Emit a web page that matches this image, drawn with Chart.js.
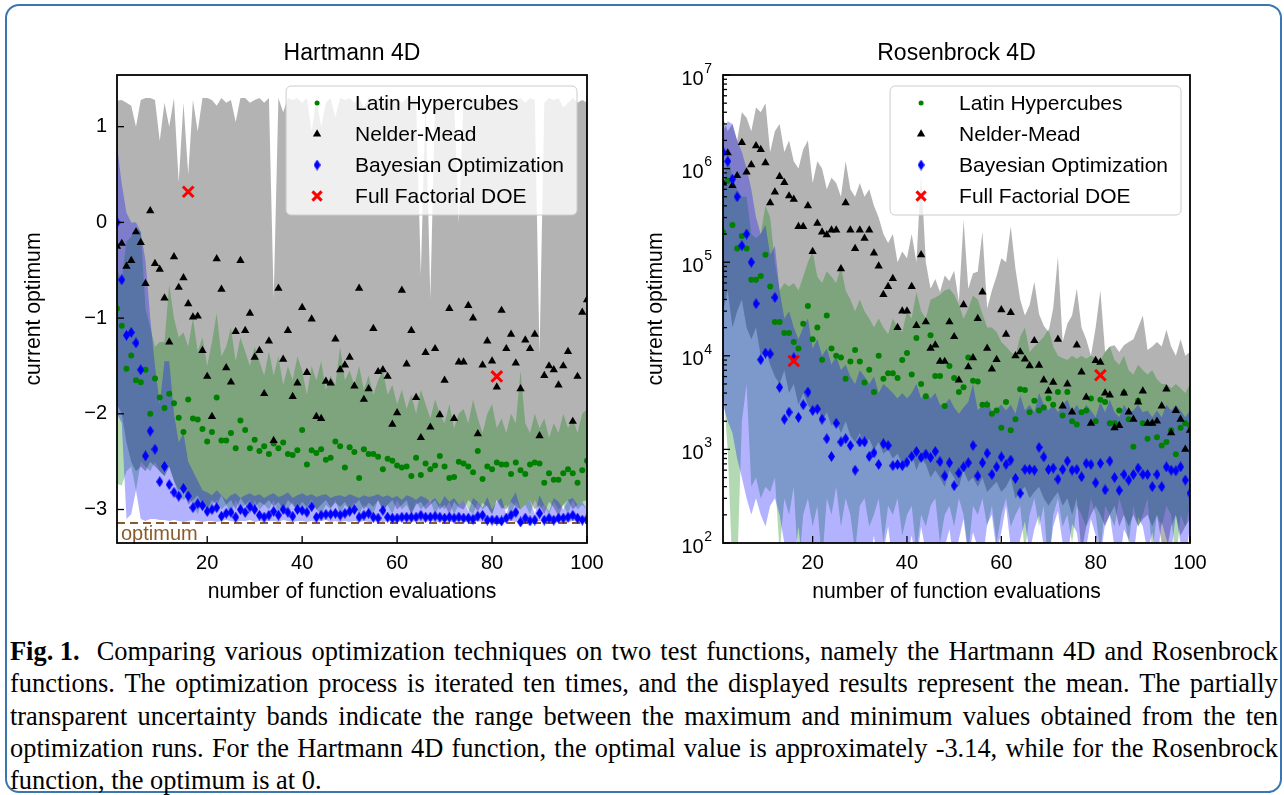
<!DOCTYPE html>
<html>
<head>
<meta charset="utf-8">
<script src="https://cdn.jsdelivr.net/npm/chart.js@4.4.1/dist/chart.umd.min.js"></script>
<style>
  html, body { margin: 0; padding: 0; background: #fff; }
  body { width: 1284px; height: 795px; position: relative; overflow: hidden; }
  #frame { position: absolute; left: 5px; top: 4px; width: 1273px; height: 785px;
           border: 2px solid #3a76b0; border-radius: 14px; }
  #cvLeft { position: absolute; left: 0; top: 0; }
  #cvRight { position: absolute; left: 640px; top: 0; }
  #caption { position: absolute; left: 10px; top: 635px; width: 1268px;
             font-family: "Liberation Serif", "Times New Roman", serif;
             font-size: 26.4px; line-height: 32.3px; color: #000; }
  #caption .ln { display: flex; justify-content: space-between; white-space: nowrap; }
  #caption .ln.last { justify-content: flex-start; gap: 0.25em; }
</style>
</head>
<body>
<div id="frame"></div>
<canvas id="cvLeft" width="640" height="620"></canvas>
<canvas id="cvRight" width="644" height="620"></canvas>
<div id="caption"></div>
<script>
// x axis: number of function evaluations
const EVALS = Array.from({ length: 100 }, (_, i) => i + 1);
const X_TICKS = [20, 40, 60, 80, 100];
const LEGEND_LABELS = ['Latin Hypercubes', 'Nelder-Mead', 'Bayesian Optimization', 'Full Factorial DOE'];
const FFD_EVALS = [16, 81];

const CAPTION_LINES = [
  'Comparing various optimization techniques on two test functions, namely the Hartmann 4D and Rosenbrock',
  'functions. The optimization process is iterated ten times, and the displayed results represent the mean. The partially',
  'transparent uncertainty bands indicate the range between the maximum and minimum values obtained from the ten',
  'optimization runs. For the Hartmann 4D function, the optimal value is approximately -3.14, while for the Rosenbrock',
  'function, the optimum is at 0.',
];

// ---- Hartmann 4D ----
const H_Y_TICKS = [-3, -2, -1, 0, 1];
const H_OPTIMUM = -3.14;
const H_FFD = [0.32, -1.61];
const H_LHS = [-0.90,-1.08,-1.53,-1.39,-1.65,-1.67,-1.54,-2.00,-1.63,-1.83,
  -1.94,-1.79,-1.89,-2.04,-2.19,-1.85,-2.05,-2.06,-2.16,-2.29,
  -2.19,-1.83,-2.28,-2.28,-2.20,-2.36,-2.07,-2.17,-2.36,-2.27,
  -2.39,-2.34,-2.42,-2.31,-2.36,-2.30,-2.42,-2.43,-2.38,-2.17,
  -2.53,-2.38,-2.41,-2.37,-2.48,-2.46,-2.29,-2.34,-2.56,-2.35,
  -2.40,-2.67,-2.37,-2.42,-2.42,-2.45,-2.58,-2.47,-2.49,-2.54,
  -2.56,-2.55,-2.65,-2.46,-2.64,-2.52,-2.58,-2.54,-2.44,-2.55,
  -2.67,-2.66,-2.50,-2.52,-2.55,-2.61,-2.39,-2.68,-2.55,-2.58,
  -2.51,-2.53,-2.53,-2.63,-2.51,-2.59,-2.63,-2.53,-2.51,-2.52,
  -2.72,-2.62,-2.69,-2.69,-2.62,-2.58,-2.62,-2.72,-2.59,-2.49];
const H_LHS_MAX = [-0.50,-0.60,-0.20,-0.15,-0.05,-0.10,-0.90,-1.10,-1.30,-1.25,
  -1.25,-0.65,-1.00,-1.20,-1.15,-1.30,-1.00,-1.35,-1.20,-1.50,
  -1.25,-0.95,-1.40,-1.30,-1.10,-1.45,-1.20,-1.35,-1.50,-1.30,
  -1.45,-1.60,-1.35,-1.60,-1.40,-1.70,-1.50,-1.65,-1.40,-1.55,
  -1.80,-1.50,-1.65,-1.45,-1.75,-1.60,-1.70,-1.30,-1.65,-1.55,
  -1.70,-1.50,-1.75,-1.60,-1.80,-1.65,-1.55,-1.80,-1.70,-1.90,
  -1.75,-1.95,-1.80,-2.00,-1.75,-1.90,-2.05,-1.85,-2.00,-2.10,
  -1.90,-2.15,-2.00,-1.95,-2.10,-1.85,-2.05,-2.20,-2.00,-1.90,
  -2.15,-2.05,-2.20,-2.00,-2.10,-1.55,-2.10,-2.20,-2.00,-2.15,
  -2.05,-2.25,-2.10,-2.20,-2.00,-2.15,-2.05,-2.20,-2.00,-1.95];
const H_LHS_MIN = [-2.73,-2.75,-2.60,-2.55,-2.80,-2.50,-2.55,-2.60,-2.50,-2.60,
  -2.65,-2.55,-2.70,-2.85,-2.90,-2.85,-2.95,-3.05,-2.90,-3.00,
  -2.95,-2.90,-3.00,-2.95,-3.05,-2.90,-3.00,-2.95,-3.05,-2.90,
  -3.00,-2.95,-3.00,-2.90,-3.05,-2.95,-3.00,-2.92,-3.05,-2.95,
  -3.00,-2.90,-3.00,-3.05,-2.95,-3.00,-2.90,-3.05,-2.95,-3.00,
  -2.92,-3.05,-2.95,-3.00,-3.05,-2.90,-3.00,-2.95,-3.05,-2.90,
  -3.00,-2.95,-3.05,-2.92,-3.00,-2.95,-2.90,-3.05,-2.95,-3.00,
  -2.92,-3.05,-2.95,-2.90,-3.00,-3.05,-2.92,-3.00,-2.95,-3.05,
  -2.90,-3.00,-2.95,-3.05,-2.92,-3.00,-2.95,-3.05,-2.90,-3.00,
  -2.95,-3.05,-2.92,-3.00,-2.95,-3.05,-2.90,-3.00,-2.95,-3.00];
const H_NM = [-0.25,-0.22,-0.46,-0.40,-0.10,-0.21,-0.64,0.12,-0.43,-0.49,
  -0.79,-1.25,-0.36,-0.68,-0.58,-0.85,-0.99,-0.98,-1.34,-1.61,
  -2.03,-0.38,-0.70,-1.52,-1.67,-1.14,-0.40,-1.13,-0.95,-1.41,
  -1.34,-1.79,-1.24,-2.28,-0.69,-1.43,-1.13,-1.82,-1.68,-0.89,
  -1.57,-1.01,-2.03,-2.05,-1.66,-1.68,-1.22,-1.54,-1.49,-1.41,
  -1.71,-0.69,-1.85,-1.74,-1.11,-1.56,-1.54,-1.61,-2.11,-1.99,
  -0.71,-1.48,-1.13,-1.83,-2.25,-1.36,-2.14,-1.32,-2.01,-1.65,
  -0.90,-2.05,-1.46,-1.46,-0.87,-1.00,-2.21,-1.49,-1.24,-1.45,
  -1.72,-0.92,-1.32,-1.17,-1.47,-1.74,-1.23,-1.32,-1.17,-2.23,
  -1.60,-1.50,-1.54,-1.70,-1.50,-1.35,-2.08,-1.61,-0.94,-0.81];
const H_NM_MAX = [1.27,1.28,1.25,1.22,1.00,1.28,1.30,1.30,1.28,0.85,
  1.25,1.00,1.30,0.42,1.25,0.50,1.28,0.95,1.30,1.30,
  1.28,1.22,1.30,1.25,1.28,1.05,1.30,1.30,1.25,1.28,
  1.30,1.25,1.30,-0.80,1.30,1.15,1.30,1.28,1.30,1.25,
  1.30,0.95,1.30,1.00,1.25,1.30,1.10,1.30,1.28,1.30,
  1.25,1.30,1.20,1.30,1.28,1.30,1.25,1.30,1.28,1.30,
  1.25,1.30,1.28,1.30,-0.55,1.30,-0.80,1.28,1.30,1.25,
  1.30,1.28,0.00,1.30,1.25,1.30,1.28,1.30,1.25,1.30,
  1.28,1.30,1.25,1.30,1.28,1.30,1.25,1.30,1.28,-1.38,
  1.25,1.30,1.28,1.30,1.20,1.25,1.30,1.25,1.28,1.25];
const H_NM_MIN = [-1.90,-2.00,-2.30,-2.50,-2.60,-2.55,-2.60,-2.50,-2.55,-2.60,
  -2.65,-2.55,-2.70,-2.80,-2.75,-2.95,-2.90,-2.85,-2.95,-3.00,
  -2.90,-2.95,-2.85,-2.95,-2.90,-3.00,-2.88,-2.95,-2.90,-2.98,
  -2.92,-2.95,-2.90,-2.97,-2.92,-3.00,-2.90,-2.95,-3.00,-2.92,
  -2.97,-2.90,-3.00,-2.95,-2.90,-2.98,-2.93,-2.97,-2.92,-3.00,
  -2.95,-2.90,-3.00,-2.93,-2.97,-2.90,-3.02,-2.95,-2.90,-3.00,
  -2.95,-2.90,-3.05,-2.95,-2.92,-3.00,-2.95,-2.90,-3.00,-2.95,
  -3.05,-2.92,-2.98,-3.00,-2.90,-2.95,-3.02,-2.93,-2.97,-3.05,
  -2.90,-2.98,-3.00,-2.92,-2.97,-3.00,-2.95,-2.90,-3.00,-2.95,
  -3.05,-2.92,-2.98,-3.07,-2.95,-2.90,-3.00,-2.95,-2.92,-2.90];
const H_BO = [0.00,-0.60,-1.18,-1.15,-1.26,-1.54,-2.44,-2.18,-2.37,-2.71,
  -2.55,-2.74,-2.82,-2.86,-2.78,-2.86,-2.98,-2.94,-2.96,-3.02,
  -3.00,-2.98,-3.07,-3.04,-3.03,-3.08,-3.00,-3.03,-2.97,-3.00,
  -3.06,-3.08,-3.06,-3.02,-3.06,-3.00,-3.03,-3.07,-3.00,-3.01,
  -3.03,-2.97,-3.08,-3.06,-3.05,-3.05,-3.04,-3.06,-3.04,-3.02,
  -3.00,-3.08,-3.06,-3.04,-3.08,-3.09,-3.01,-3.08,-3.09,-3.09,
  -3.08,-3.08,-3.08,-3.08,-3.06,-3.08,-3.08,-3.07,-3.08,-3.09,
  -3.08,-3.09,-3.08,-3.09,-3.09,-3.10,-3.07,-3.06,-3.11,-3.11,
  -3.11,-3.12,-3.09,-3.06,-3.03,-3.13,-3.09,-3.12,-3.11,-3.04,
  -3.11,-3.09,-3.11,-3.09,-3.09,-3.08,-3.06,-3.09,-3.11,-3.10];
const H_BO_MAX = [0.80,0.40,0.10,0.00,0.00,-0.10,-0.40,-1.00,-1.50,-1.90,
  -1.45,-1.45,-2.00,-2.30,-2.20,-2.50,-2.60,-2.70,-2.80,-2.82,
  -2.85,-2.80,-2.85,-2.90,-2.85,-2.83,-2.88,-2.85,-2.83,-2.86,
  -2.84,-2.88,-2.85,-2.83,-2.87,-2.85,-2.82,-2.88,-2.85,-2.83,
  -2.86,-2.84,-2.87,-2.85,-2.84,-2.88,-2.86,-2.85,-2.87,-2.84,
  -2.86,-2.88,-2.85,-2.87,-2.86,-2.84,-2.87,-2.85,-2.88,-2.86,
  -2.90,-2.85,-2.87,-2.90,-2.86,-2.88,-2.92,-2.88,-2.95,-2.86,
  -2.92,-2.88,-2.95,-2.90,-3.02,-2.88,-2.92,-2.98,-2.87,-3.00,
  -2.92,-2.88,-3.05,-2.90,-2.82,-3.00,-2.95,-2.90,-3.05,-2.85,
  -2.95,-3.02,-2.88,-2.92,-3.00,-2.90,-2.88,-2.95,-2.92,-3.00];
const H_BO_MIN = [-2.00,-2.10,-3.10,-3.05,-2.80,-3.10,-3.12,-3.10,-3.10,-3.11,
  -3.11,-3.12,-3.11,-3.12,-3.13,-3.12,-3.11,-3.12,-3.13,-3.12,
  -3.12,-3.13,-3.12,-3.11,-3.12,-3.13,-3.12,-3.12,-3.11,-3.13,
  -3.12,-3.13,-3.12,-3.12,-3.13,-3.11,-3.12,-3.13,-3.12,-3.12,
  -3.13,-3.12,-3.13,-3.12,-3.11,-3.13,-3.12,-3.13,-3.12,-3.13,
  -3.12,-3.13,-3.12,-3.13,-3.13,-3.12,-3.13,-3.12,-3.13,-3.13,
  -3.12,-3.13,-3.13,-3.12,-3.13,-3.13,-3.12,-3.13,-3.13,-3.12,
  -3.13,-3.13,-3.12,-3.13,-3.13,-3.13,-3.12,-3.13,-3.13,-3.13,
  -3.13,-3.13,-3.13,-3.12,-3.13,-3.14,-3.13,-3.13,-3.13,-3.12,
  -3.13,-3.13,-3.14,-3.13,-3.13,-3.13,-3.12,-3.13,-3.13,-3.13];

// ---- Rosenbrock 4D ----
const R_Y_TICKS = [1e2, 1e3, 1e4, 1e5, 1e6, 1e7];
const R_FFD = [8.8e3, 6.2e3];
const R_LHS = [2.1e5,7.4e5,2.5e5,1.4e5,1.9e5,1.4e5,6.5e4,6.5e4,7.1e4,1.2e5,
  5.5e4,2.3e4,2.3e4,1.75e4,1.75e4,1.4e4,1.2e4,2.2e4,3.4e4,1.5e4,
  2.0e4,9.1e3,2.7e4,1.2e4,1.0e4,9.6e3,5.7e3,8.7e3,1.15e4,8.7e3,
  5.2e3,7.1e3,4.1e3,1.0e4,5.7e3,6.5e3,6.5e3,5.8e3,9.0e3,1.07e4,
  6.3e3,1.55e4,5.0e3,3.7e3,1.66e4,6.1e3,6.1e3,2.9e3,7.8e3,5.8e3,
  4.1e3,4.6e3,9.6e3,5.4e3,5.3e3,3.0e3,3.0e3,2.4e3,2.6e3,1.7e3,
  3.2e3,1.6e3,2.1e3,4.4e3,4.3e3,2.5e3,3.3e3,2.6e3,2.8e3,3.5e3,
  3.0e3,4.1e3,2.3e3,4.1e3,2.0e3,1.85e3,2.5e3,2.6e3,3.5e3,2.0e3,
  3.4e3,3.2e3,1.9e3,1.9e3,2.6e3,4.0e3,2.1e3,1.07e3,3.3e3,1.9e3,
  1.3e3,1.9e3,1.35e3,1.1e3,1.2e3,1.6e3,890,1.7e3,1.9e3,1.8e3];
const R_LHS_MAX = [6e5,1.5e6,8e5,6e5,5e5,5e5,2e5,1.8e5,2e5,4e5,
  3e5,1e5,5e4,6e4,5.5e4,6e4,5e4,7e4,1e5,1.3e5,
  7e4,6e4,8e4,7e4,6e4,9e4,5e4,4e4,3e4,4e4,
  3e4,2.5e4,2e4,2.5e4,2e4,1.7e4,2.5e4,2e4,1.8e4,3e4,
  2.5e4,4.8e4,3e4,2.5e4,4e4,4.2e4,4.5e4,5e4,5.2e4,4.5e4,
  3.5e4,2.5e4,3.2e4,4.4e4,4e4,2.8e4,2e4,2e4,1.8e4,1.4e4,
  1.26e4,1.1e4,1e4,1.6e4,2e4,1.1e4,1.26e4,1.4e4,1.6e4,1.95e4,
  1.26e4,1e4,9.5e3,9e3,1e4,9.3e3,1e4,9.3e3,1e4,9.5e3,
  9e3,1.1e4,1.26e4,9e3,8e3,1e4,7e3,6.3e3,8e3,7e3,
  6.3e3,7e3,5.6e3,5e3,5e3,4.5e3,5e3,4.5e3,4e3,5e3];
const R_LHS_MIN = [5e3,1e3,50,50,2e3,5e3,400,500,300,400,
  350,500,80,300,200,400,50,200,300,150,
  250,60,300,200,400,150,300,200,80,250,
  300,150,200,300,100,250,200,300,120,200,
  250,80,200,150,250,300,100,200,250,150,
  300,200,80,250,200,300,150,250,100,200,
  300,150,200,250,80,200,300,150,250,50,
  200,300,150,200,100,250,200,150,300,200,
  80,250,200,150,300,200,100,250,150,200,
  300,80,200,150,250,200,60,200,150,250];
const R_NM = [7.0e5,1.47e6,6.6e5,8.4e5,1.9e6,9.2e5,1.1e6,1.75e6,1.6e6,1.15e6,
  4.3e5,5.6e5,8.2e5,7.1e5,5.1e5,4.7e5,2.4e5,2.4e5,4.0e5,1.3e5,
  2.6e5,2.1e5,1.96e5,2.2e5,2.2e5,8.5e4,4.3e5,2.2e5,1.4e5,2.2e5,
  1.8e5,2.2e5,1.25e5,9.1e4,4.5e4,5.5e4,6.7e4,2.0e4,3.0e4,3.0e4,
  5.5e4,2.1e4,1.2e5,2.3e4,1.2e4,1.3e4,8.7e3,8.7e3,2.3e4,1.6e4,
  5.5e3,3.5e4,7.6e3,9.5e3,2.5e4,4.8e4,1.2e4,7.2e3,9.1e3,3.1e4,
  1.7e4,2.9e4,1.0e4,1.1e4,9.2e3,7.8e3,1.45e4,7.9e3,5.5e3,4.2e3,
  5.2e3,1.5e4,2.9e3,5.0e3,2.5e3,1.3e4,6.7e3,3.6e3,1.9e3,8.9e3,
  8.5e3,4.0e3,3.8e3,1.7e3,1.8e3,4.0e3,2.5e3,2.1e3,3.2e3,4.2e3,
  1.9e3,1.9e3,2.0e3,2.9e3,4.4e3,1.5e3,2.6e3,2.1e3,1.0e3,1.6e3];
const R_NM_MAX = [3.5e6,2.5e6,3.0e6,2.0e6,4.0e6,3.5e6,2.5e6,4.5e6,4.0e6,5.0e6,
  1.5e6,2.5e6,3.0e6,1.5e6,2.0e6,1.2e6,1.0e6,1.6e6,2.0e6,7.0e5,
  1.2e6,1.0e6,6.0e5,8.0e5,7.0e5,5.0e5,1.2e6,6.0e5,5.0e5,7.0e5,
  5.0e5,6.0e5,4.0e5,3.0e5,2.0e5,1.6e5,2.0e5,1.0e5,1.3e5,1.1e5,
  2.0e5,1.0e5,9.0e5,1.0e5,5.2e4,6.6e4,4.8e4,7.2e4,6.3e4,8.1e4,
  3.8e4,2.8e5,5.2e4,7.6e4,7.9e4,2.1e5,3.2e4,5.0e4,7.1e4,1.1e5,
  1.0e5,2.4e5,8.5e4,4.0e4,2.7e4,3.5e4,6.2e4,2.8e4,2.1e4,1.8e4,
  3.2e4,1.15e5,1.4e4,2.2e4,2.7e4,5.2e4,2.0e4,1.5e4,1.0e4,2.0e4,
  5.0e4,1.1e4,1.26e4,1.3e4,1.1e4,1.3e4,1.4e4,1.5e4,2.0e4,2.7e4,
  1.15e4,1.26e4,1.4e4,1.26e4,1.9e4,1.26e4,1.0e4,1.5e4,1.0e4,1.1e4];
const R_NM_MIN = [3e4,5e4,2e4,3e4,4e4,2e4,1.5e4,2e4,1e4,1.2e4,
  8e3,6e3,5e3,7e3,4e3,5e3,3e3,4e3,3e3,2.5e3,
  3e3,2e3,2.5e3,1.8e3,2e3,1.5e3,2e3,1.4e3,1.2e3,1.5e3,
  1.1e3,1.3e3,1e3,1.2e3,900,1e3,800,900,700,800,
  900,600,800,700,500,600,500,400,600,500,
  400,600,450,500,400,500,350,400,450,350,
  400,500,300,350,400,300,350,400,300,250,
  300,350,250,300,200,300,80,150,200,250,
  200,150,200,250,150,200,150,200,150,180,
  200,150,200,100,80,150,200,120,150,180];
const R_BO = [1.5e6,1.2e6,7.7e5,5.0e5,1.5e5,2.0e5,1.0e5,3.6e4,9.1e3,1.07e4,
  1.05e4,4.2e4,4.6e3,2.1e3,2.5e3,9.5e3,2.2e3,3.0e3,4.1e3,2.6e3,
  2.7e3,2.1e3,1.3e3,840,1.9e3,1.2e3,1.3e3,1.1e3,600,1.2e3,
  1.2e3,840,920,690,1.15e3,1.1e3,670,690,670,730,
  840,950,820,890,820,950,740,520,720,410,
  560,650,720,1.1e3,520,720,910,540,650,830,
  690,770,490,340,610,610,600,1.05e3,830,610,
  630,480,610,750,600,610,510,710,690,440,
  710,370,750,500,365,540,470,540,630,540,
  540,400,540,400,650,600,590,650,470,340];
const R_BO_MAX = [2.5e6,3.2e6,3.0e6,2.0e6,1.5e6,1.0e6,6e5,3e5,2e5,2.5e5,
  1.2e5,1.5e5,5e4,2.5e4,3e4,2e4,1.5e4,2e4,2.5e4,1.2e4,
  1.5e4,1.0e4,1.2e4,8e3,1.0e4,7e3,8e3,6e3,5e3,7e3,
  6e3,5e3,6e3,4e3,5e3,4.5e3,4e3,3.5e3,4e3,3.5e3,
  4e3,5e3,3.5e3,4e3,3.5e3,4e3,3e3,3e3,3.5e3,2.8e3,
  2.4e3,2.8e3,3.2e3,5e3,2.6e3,3e3,3.4e3,2.5e3,2.7e3,3e3,
  2.6e3,3e3,2.4e3,3.8e3,2.6e3,3e3,2.5e3,4e3,3e3,2.6e3,
  3e3,2.5e3,3e3,3.4e3,2.5e3,3e3,2.4e3,3e3,2.6e3,2.2e3,
  3.2e3,2.5e3,3.4e3,2.5e3,2.2e3,3e3,2.5e3,2.6e3,3e3,2.5e3,
  2.6e3,2.2e3,2.6e3,2.2e3,3e3,2.6e3,3e3,2.6e3,2.2e3,2.6e3];
const R_BO_MIN = [3e3,2e3,1.5e3,800,500,300,200,300,200,150,
  250,300,200,100,80,60,150,50,80,100,
  60,80,50,60,50,80,50,60,50,70,
  90,60,120,50,80,150,60,50,90,70,
  120,60,150,80,50,100,60,90,140,60,
  110,180,70,130,90,60,160,200,80,130,
  250,90,60,110,170,80,140,200,90,60,
  150,220,100,70,160,130,60,90,180,120,
  70,160,200,90,60,140,110,70,190,150,
  80,130,60,170,110,80,200,100,70,150];

const FONT = '"Liberation Sans", Arial, Helvetica, sans-serif';
const GREEN = '#008000', BLUE = '#0000ff', RED = '#ff0000', BROWN = '#8b5a2b';

function thinDiamond(color, w, h) {
  const c = document.createElement('canvas');
  c.width = w; c.height = h;
  const g = c.getContext('2d');
  g.fillStyle = color;
  g.beginPath();
  g.moveTo(w / 2, 0); g.lineTo(w, h / 2); g.lineTo(w / 2, h); g.lineTo(0, h / 2);
  g.closePath(); g.fill();
  return c;
}
const DIAMOND = thinDiamond(BLUE, 7, 11);

const MARKERS = [
  { pointStyle: 'circle', radius: 3, fill: GREEN, stroke: GREEN, borderWidth: 0 },
  { pointStyle: 'triangle', radius: 4.8, fill: '#000', stroke: '#000', borderWidth: 0 },
  { pointStyle: DIAMOND, radius: 5, fill: BLUE, stroke: BLUE, borderWidth: 0 },
  { pointStyle: 'crossRot', radius: 7.5, fill: RED, stroke: RED, borderWidth: 3 },
];

const pts = (xs, ys) => xs.map((x, i) => ({ x, y: ys[i] }));

function band(xs, hi, lo, color, order) {
  return [
    { data: pts(xs, hi), borderWidth: 0, pointRadius: 0, fill: '+1', backgroundColor: color, order, clip: 0 },
    { data: pts(xs, lo), borderWidth: 0, pointRadius: 0, fill: false, order, clip: 0 },
  ];
}

function scatter(xs, ys, m, order) {
  return {
    data: pts(xs, ys), showLine: false, order, clip: 0,
    pointStyle: m.pointStyle, pointRadius: m.radius,
    pointBackgroundColor: m.fill, pointBorderColor: m.stroke, pointBorderWidth: m.borderWidth,
  };
}

function minus(v) { return v < 0 ? '\u2212' + Math.abs(v) : String(v); }

const decor = {
  id: 'decor',
  afterDatasetsDraw(chart, args, opts) {
    const { ctx, chartArea: a, scales: { x, y } } = chart;
    ctx.save();
    ctx.strokeStyle = '#000';
    ctx.lineWidth = 1.3;
    const seg = (x1, y1, x2, y2) => { ctx.beginPath(); ctx.moveTo(x1, y1); ctx.lineTo(x2, y2); ctx.stroke(); };
    X_TICKS.forEach((v) => { const px = x.getPixelForValue(v); seg(px, a.bottom, px, a.bottom - 7); });
    opts.yTicks.forEach((v) => { const py = y.getPixelForValue(v); seg(a.left, py, a.left + 7, py); });

    if (opts.log) {
      for (let d = 2; d < 7; d++) {
        for (let m = 2; m < 10; m++) {
          const py = y.getPixelForValue(m * Math.pow(10, d));
          seg(a.left, py, a.left + 4, py);
        }
      }
      ctx.fillStyle = '#000';
      opts.yTicks.forEach((v) => {
        const py = y.getPixelForValue(v);
        const e = String(Math.round(Math.log10(v)));
        ctx.font = '14px ' + FONT;
        const ew = ctx.measureText(e).width;
        const ex = a.left - 11 - ew;
        ctx.textAlign = 'left'; ctx.textBaseline = 'middle';
        ctx.fillText(e, ex, py - 6);
        ctx.font = '20px ' + FONT;
        ctx.textAlign = 'right';
        ctx.fillText('10', ex - 0.5, py + 4);
      });
    }

    if (opts.optimum !== undefined) {
      ctx.fillStyle = BROWN;
      ctx.font = '20px ' + FONT;
      ctx.textAlign = 'left'; ctx.textBaseline = 'middle';
      ctx.fillText('optimum', a.left + 4, y.getPixelForValue(opts.optimum) + 12);
    }

    // panel title, centred over the axes
    ctx.fillStyle = '#000';
    ctx.font = '23px ' + FONT;
    ctx.textAlign = 'center'; ctx.textBaseline = 'middle';
    ctx.fillText(opts.title, (a.left + a.right) / 2, a.top - 21);

    // legend
    ctx.font = '21px ' + FONT;
    const tw = Math.max(...LEGEND_LABELS.map((t) => ctx.measureText(t).width));
    const bw = 69 + tw + 13, bh = 129;
    const bx = a.right - opts.legendRight - bw, by = a.top + 11;
    ctx.beginPath();
    ctx.roundRect(bx, by, bw, bh, 5);
    ctx.fillStyle = 'rgba(255,255,255,0.8)';
    ctx.fill();
    ctx.strokeStyle = '#cccccc';
    ctx.lineWidth = 1;
    ctx.stroke();
    LEGEND_LABELS.forEach((label, i) => {
      const ry = by + 17 + i * 31;
      const m = MARKERS[i];
      ctx.fillStyle = m.fill; ctx.strokeStyle = m.stroke;
      ctx.lineWidth = m.borderWidth || 1;
      Chart.helpers.drawPoint(ctx, {
        pointStyle: m.pointStyle, radius: i === 0 ? 2.5 : (i === 3 ? 6.5 : m.radius),
        borderWidth: m.borderWidth, rotation: 0,
      }, bx + 31, ry);
      ctx.fillStyle = '#000';
      ctx.textAlign = 'left'; ctx.textBaseline = 'middle';
      ctx.fillText(label, bx + 69, ry + 1);
    });

    // axes box
    ctx.strokeStyle = '#000';
    ctx.lineWidth = 1.8;
    ctx.strokeRect(a.left, a.top, a.right - a.left, a.bottom - a.top);
    ctx.restore();
  },
};

function makeChart(canvasId, cfg) {
  const datasets = [
    ...band(EVALS, cfg.nmMax, cfg.nmMin, 'rgba(128,128,128,0.6)', 30),
    ...band(EVALS, cfg.lhsMax, cfg.lhsMin, 'rgba(0,128,0,0.3)', 20),
    ...band(EVALS, cfg.boMax, cfg.boMin, 'rgba(0,0,255,0.3)', 10),
  ];
  if (cfg.optimum !== undefined) {
    datasets.push({
      data: pts([1, 100], [cfg.optimum, cfg.optimum]), borderColor: BROWN, borderWidth: 2,
      borderDash: [8, 5], pointRadius: 0, fill: false, order: 5, clip: 0,
    });
  }
  datasets.push(scatter(EVALS, cfg.lhs, MARKERS[0], 4));
  datasets.push(scatter(EVALS, cfg.nm, MARKERS[1], 3));
  datasets.push(scatter(EVALS, cfg.bo, MARKERS[2], 2));
  datasets.push(scatter(FFD_EVALS, cfg.ffd, MARKERS[3], 1));

  const yScale = cfg.log
    ? { type: 'logarithmic', min: 1e2, max: 1e7, ticks: { display: false } }
    : { type: 'linear', min: cfg.yMin, max: cfg.yMax,
        ticks: { color: '#000', font: { size: 20, family: FONT }, padding: 10, callback: (v) => minus(v) } };

  return new Chart(document.getElementById(canvasId), {
    type: 'line',
    data: { datasets },
    plugins: [decor],
    options: {
      responsive: false,
      animation: false,
      events: [],
      layout: { padding: { left: 0, right: cfg.padRight, top: 75, bottom: 0 } },
      scales: {
        x: {
          type: 'linear', min: 1, max: 100,
          afterBuildTicks: (s) => { s.ticks = X_TICKS.map((v) => ({ value: v })); },
          afterFit: (s) => { s.height = 77; },
          grid: { display: false, drawTicks: false },
          border: { display: false },
          ticks: { color: '#000', font: { size: 20, family: FONT }, padding: 8, maxRotation: 0 },
          title: { display: true, text: 'number of function evaluations', color: '#000',
                   font: { size: 21.2, family: FONT }, padding: { top: 0, bottom: 15 } },
        },
        y: Object.assign(yScale, {
          afterBuildTicks: (s) => { s.ticks = cfg.yTicks.map((v) => ({ value: v })); },
          afterFit: (s) => { s.width = cfg.axisWidth; },
          grid: { display: false, drawTicks: false },
          border: { display: false },
          title: { display: true, text: 'current optimum', color: '#000',
                   font: { size: 21.2, family: FONT }, padding: { top: cfg.titlePad, bottom: 0 } },
        }),
      },
      plugins: {
        legend: { display: false },
        tooltip: { enabled: false },
        title: { display: false },
        decor: { title: cfg.title, yTicks: cfg.yTicks, log: cfg.log, optimum: cfg.optimum, legendRight: cfg.legendRight },
      },
    },
  });
}

makeChart('cvLeft', {
  title: 'Hartmann 4D', log: false, yMin: -3.35, yMax: 1.54, yTicks: H_Y_TICKS,
  axisWidth: 117, padRight: 53, titlePad: 21, legendRight: 10, optimum: H_OPTIMUM,
  lhs: H_LHS, lhsMax: H_LHS_MAX, lhsMin: H_LHS_MIN,
  nm: H_NM, nmMax: H_NM_MAX, nmMin: H_NM_MIN,
  bo: H_BO, boMax: H_BO_MAX, boMin: H_BO_MIN, ffd: H_FFD,
});

makeChart('cvRight', {
  title: 'Rosenbrock 4D', log: true, yTicks: R_Y_TICKS,
  axisWidth: 83, padRight: 94, titlePad: 3.4, legendRight: 9,
  lhs: R_LHS, lhsMax: R_LHS_MAX, lhsMin: R_LHS_MIN,
  nm: R_NM, nmMax: R_NM_MAX, nmMin: R_NM_MIN,
  bo: R_BO, boMax: R_BO_MAX, boMin: R_BO_MIN, ffd: R_FFD,
});

// caption: one justified row per line of the original figure caption
const cap = document.getElementById('caption');
CAPTION_LINES.forEach((text, i) => {
  const row = document.createElement('div');
  row.className = 'ln' + (i === CAPTION_LINES.length - 1 ? ' last' : '');
  if (i === 0) {
    const lead = document.createElement('b');
    lead.textContent = 'Fig. 1.';
    lead.style.marginRight = '0.3em';
    row.appendChild(lead);
  }
  text.split(' ').forEach((w) => {
    const s = document.createElement('span');
    s.textContent = w;
    row.appendChild(s);
  });
  cap.appendChild(row);
});
</script>
</body>
</html>
